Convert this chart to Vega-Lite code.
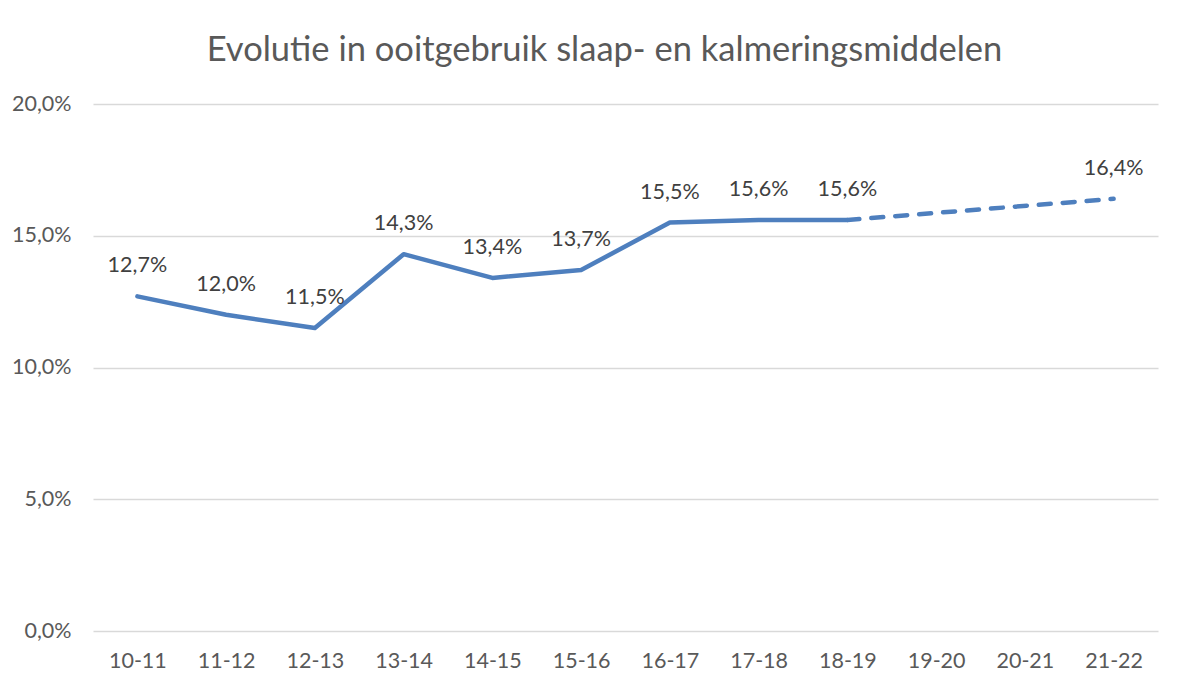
{
  "$schema": "https://vega.github.io/schema/vega-lite/v6.json",
  "width": 1065,
  "height": 527,
  "autosize": {"type": "none"},
  "padding": {"left": 93, "top": 104, "right": 40, "bottom": 57},
  "background": "white",
  "config": {
    "locale": {"number": {"decimal": ",", "thousands": ".", "grouping": [3], "currency": ["€", ""]}},
    "font": "Lato",
    "view": {"stroke": null}
  },
  "title": {
    "text": "Evolutie in ooitgebruik slaap- en kalmeringsmiddelen",
    "fontSize": 34.5,
    "font": "Lato",
    "fontWeight": "normal",
    "color": "#595959",
    "anchor": "middle",
    "dx": -21,
    "offset": 25
  },
  "data": {
    "values": [
      {"jaar": "10-11", "waarde": 0.127, "reeks": "gemeten"},
      {"jaar": "11-12", "waarde": 0.120, "reeks": "gemeten"},
      {"jaar": "12-13", "waarde": 0.115, "reeks": "gemeten"},
      {"jaar": "13-14", "waarde": 0.143, "reeks": "gemeten"},
      {"jaar": "14-15", "waarde": 0.134, "reeks": "gemeten"},
      {"jaar": "15-16", "waarde": 0.137, "reeks": "gemeten"},
      {"jaar": "16-17", "waarde": 0.155, "reeks": "gemeten"},
      {"jaar": "17-18", "waarde": 0.156, "reeks": "gemeten"},
      {"jaar": "18-19", "waarde": 0.156, "reeks": "gemeten"},
      {"jaar": "18-19", "waarde": 0.156, "reeks": "trend"},
      {"jaar": "21-22", "waarde": 0.164, "reeks": "trend"}
    ]
  },
  "encoding": {
    "x": {
      "field": "jaar",
      "type": "ordinal",
      "scale": {"domain": ["10-11","11-12","12-13","13-14","14-15","15-16","16-17","17-18","18-19","19-20","20-21","21-22"], "type": "point", "padding": 0.5},
      "axis": {
        "title": null,
        "labelAngle": 0,
        "labelFontSize": 21.5,
        "labelColor": "#595959",
        "labelPadding": 19,
        "ticks": false,
        "domain": false,
        "grid": false
      }
    },
    "y": {
      "field": "waarde",
      "type": "quantitative",
      "scale": {"domain": [0, 0.2], "nice": false},
      "axis": {
        "title": null,
        "values": [0, 0.05, 0.1, 0.15, 0.2],
        "format": ".1%",
        "labelFontSize": 21.5,
        "labelColor": "#595959",
        "labelPadding": 22,
        "ticks": false,
        "domain": false,
        "gridColor": "#D9D9D9",
        "gridWidth": 1.5
      }
    }
  },
  "layer": [
    {
      "transform": [{"filter": "datum.reeks == 'gemeten'"}],
      "mark": {"type": "line", "color": "#4E7FBE", "strokeWidth": 4.5, "strokeCap": "round", "strokeJoin": "round"}
    },
    {
      "transform": [{"filter": "datum.reeks == 'trend'"}],
      "mark": {"type": "line", "color": "#4E7FBE", "strokeWidth": 4.5, "strokeCap": "round", "strokeDash": [12, 12]}
    },
    {
      "transform": [{"filter": "datum.reeks == 'gemeten' || datum.jaar == '21-22'"}],
      "mark": {"type": "text", "dy": -30, "fontSize": 21.5, "color": "#404040", "font": "Lato"},
      "encoding": {"text": {"field": "waarde", "type": "quantitative", "format": ".1%"}}
    }
  ]
}
